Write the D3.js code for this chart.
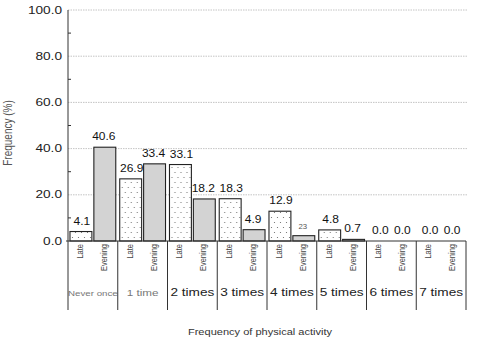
<!DOCTYPE html>
<html>
<head>
<meta charset="utf-8">
<script src="https://cdn.jsdelivr.net/npm/d3@7"></script>
<style>
  body { margin: 0; background: #fff; }
  text { font-family: Arial, "Liberation Sans", sans-serif; }
</style>
</head>
<body>
<svg id="chart" width="491" height="342"></svg>
<script>
// data
const groups = ["Never once", "1 time", "2 times", "3 times", "4 times", "5 times", "6 times", "7 times"];
const subgroups = ["Late", "Evening"];
const lateValues = [4.1, 26.9, 33.1, 18.3, 12.9, 4.8, 0.0, 0.0];
const eveningValues = [40.6, 33.4, 18.2, 4.9, 2.3, 0.7, 0.0, 0.0];
const eveningLabels = ["40.6", "33.4", "18.2", "4.9", "23", "0.7", "0.0", "0.0"];
const yTicks = [0, 20, 40, 60, 80, 100];

const sx = 1.3; // the reference is stretched sideways a bit
const svg = d3.select("#chart");

const margin = { left: 68, right: 25, top: 10, bottom: 101 };
const width = 491 - margin.left - margin.right;
const height = 342 - margin.top - margin.bottom;

const x = d3.scaleBand().domain(groups).range([0, width]).padding(0);
const xSub = d3.scaleBand().domain(subgroups).range([0, x.bandwidth()])
  .paddingInner(0.083).paddingOuter(0.083);
const y = d3.scaleLinear().domain([0, 100]).range([height, 0]);

const defs = svg.append("defs");
const pat = defs.append("pattern")
  .attr("id", "dots")
  .attr("patternUnits", "userSpaceOnUse")
  .attr("width", 6).attr("height", 10);
pat.append("rect").attr("width", 6).attr("height", 10).attr("fill", "#fff");
pat.append("circle").attr("cx", 1.5).attr("cy", 2.5).attr("r", 0.6).attr("fill", "#666");
pat.append("circle").attr("cx", 4.5).attr("cy", 7.5).attr("r", 0.6).attr("fill", "#666");

const g = svg.append("g").attr("transform", `translate(${margin.left},${margin.top})`);

// grid lines
g.append("g")
  .selectAll("line")
  .data(yTicks.filter((d) => d > 0))
  .join("line")
  .attr("x1", 0).attr("x2", width + 1)
  .attr("y1", (d) => y(d)).attr("y2", (d) => y(d))
  .attr("stroke", "#b5b5b5")
  .attr("stroke-width", 0.8)
  .attr("stroke-dasharray", "1.5,1");

// y tick labels
g.append("g")
  .selectAll("text")
  .data(yTicks)
  .join("text")
  .attr("transform", (d) => `translate(-6,${y(d) + 3.6}) scale(${sx},1)`)
  .attr("text-anchor", "end")
  .attr("font-size", 10.5)
  .attr("fill", "#222")
  .text((d) => d.toFixed(1));

// minor ticks
g.append("g")
  .selectAll("line")
  .data(d3.range(10, 100, 20))
  .join("line")
  .attr("x1", 0).attr("x2", 3)
  .attr("y1", (d) => y(d)).attr("y2", (d) => y(d))
  .attr("stroke", "#333");

const rows = groups.map((grp, i) => ({
  grp,
  i,
  bars: [
    { key: "Late", value: lateValues[i], label: lateValues[i].toFixed(1) },
    { key: "Evening", value: eveningValues[i], label: eveningLabels[i] }
  ]
}));

const gg = g.append("g")
  .selectAll("g")
  .data(rows)
  .join("g")
  .attr("transform", (d) => `translate(${x(d.grp)},0)`);

gg.selectAll("rect")
  .data((d) => d.bars.filter((b) => b.value > 0))
  .join("rect")
  .attr("x", (b) => xSub(b.key))
  .attr("width", xSub.bandwidth())
  .attr("y", (b) => y(b.value))
  .attr("height", (b) => y(0) - y(b.value))
  .attr("fill", (b) => (b.key === "Late" ? "url(#dots)" : "#d3d3d3"))
  .attr("stroke", "#222")
  .attr("stroke-width", 1.1);

// value labels
gg.selectAll("text.val")
  .data((d) => d.bars)
  .join("text")
  .attr("class", "val")
  .attr("transform", (b) =>
    `translate(${xSub(b.key) + xSub.bandwidth() / 2 + (b.key === "Late" ? 1 : -1)},${y(b.value) - 7}) scale(1.2,1)`)
  .attr("text-anchor", "middle")
  .attr("font-size", (b) => (b.label === "23" ? 6.5 : 10))
  .attr("fill", (b) => (b.label === "23" ? "#555" : "#111"))
  .text((b) => b.label);

// rotated sub labels
gg.selectAll("text.sub")
  .data((d) => d.bars)
  .join("text")
  .attr("class", "sub")
  .attr("transform", (b) =>
    `translate(${xSub(b.key) + xSub.bandwidth() / 2 + 2},${height + 3}) scale(${sx},1) rotate(-90)`)
  .attr("text-anchor", "end")
  .attr("font-size", 7.5)
  .attr("fill", "#444")
  .text((b) => b.key);

// group labels
gg.append("text")
  .attr("transform", (d) => `translate(${x.bandwidth() / 2},${height + 55}) scale(${sx},1)`)
  .attr("text-anchor", "middle")
  .attr("font-size", (d) => (d.i === 0 ? 7.5 : d.i === 1 ? 9 : 10.5))
  .attr("fill", (d) => (d.i < 2 ? "#777" : "#222"))
  .text((d) => d.grp);

// separators
g.append("g")
  .selectAll("line")
  .data(groups.concat(["end"]))
  .join("line")
  .attr("x1", (d, i) => (i < groups.length ? x(d) : width))
  .attr("x2", (d, i) => (i < groups.length ? x(d) : width))
  .attr("y1", height).attr("y2", height + 69)
  .attr("stroke", "#333")
  .attr("stroke-width", 1);

// axes lines
g.append("line")
  .attr("x1", 0).attr("x2", 0)
  .attr("y1", 0).attr("y2", height)
  .attr("stroke", "#333");
g.append("line")
  .attr("x1", -2).attr("x2", width)
  .attr("y1", height).attr("y2", height)
  .attr("stroke", "#333");

// axis titles
svg.append("text")
  .attr("transform", `translate(12,133) scale(${sx},1) rotate(-90)`)
  .attr("text-anchor", "middle")
  .attr("font-size", 10)
  .attr("fill", "#555")
  .text("Frequency (%)");

svg.append("text")
  .attr("transform", `translate(260,335) scale(${sx},1)`)
  .attr("text-anchor", "middle")
  .attr("font-size", 8.5)
  .attr("fill", "#333")
  .text("Frequency of physical activity");
</script>
</body>
</html>
